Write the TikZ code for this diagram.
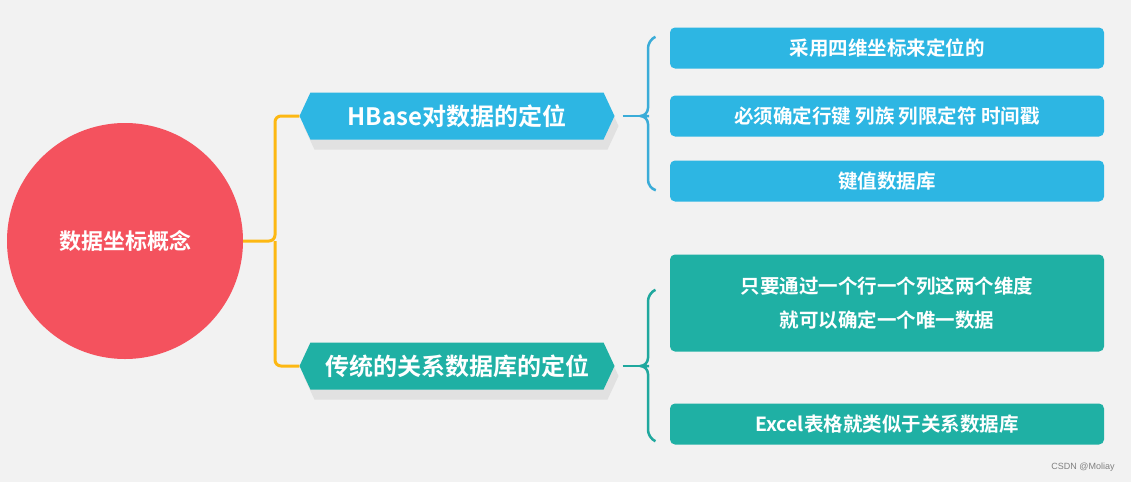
\documentclass[tikz,border=0pt]{standalone}
\usepackage{fontspec}
\setmainfont{Liberation Sans}
\newfontfamily\cjk{Noto Sans CJK SC}[BoldFont={* Bold}]
\usetikzlibrary{shapes.geometric,shapes.symbols,shadows}
\definecolor{bg}{HTML}{F2F2F2}
\definecolor{cred}{HTML}{F4525E}
\definecolor{cblue}{HTML}{2DB6E3}
\definecolor{cteal}{HTML}{1FB0A4}
\definecolor{corange}{HTML}{FDB813}
\definecolor{cbrace}{HTML}{3AACD8}
\definecolor{cbrace2}{HTML}{1FA89E}
\begin{document}
\begin{tikzpicture}[x=1pt,y=-1pt,
  hexbox/.style={signal,signal to=east and west,signal pointer angle=130,minimum width=315pt,minimum height=47pt,inner sep=0pt,text=white,font=\cjk\bfseries\fontsize{24}{28}\selectfont,drop shadow={shadow xshift=4pt,shadow yshift=-10pt,opacity=0.15}},
  leaf/.style={rounded corners=5pt,minimum width=434pt,inner sep=0pt,text=white,font=\cjk\bfseries\fontsize{19.5}{34}\selectfont,align=center},
  conn/.style={line width=3pt,corange,rounded corners=6pt},
  brace/.style={line width=2.5pt,rounded corners=8pt}]
\fill[bg] (0,0) rectangle (1131,482);
\useasboundingbox (0,0) rectangle (1131,482);
\node[circle,fill=cred,minimum size=236pt,inner sep=0pt,text=white,font=\cjk\bfseries\fontsize{22}{26}\selectfont] (root) at (125,241) {数据坐标概念};
\node[hexbox,fill=cblue] (h1) at (457,116) {HBase对数据的定位};
\node[hexbox,fill=cteal] (h2) at (457,366) {传统的关系数据库的定位};
\coordinate (j) at (275,241);
\draw[conn] (root.east) -- (j) |- (h1.west);
\draw[conn] (j) |- (h2.west);
\node[leaf,fill=cblue,minimum height=41pt] (a1) at (887,48) {采用四维坐标来定位的};
\node[leaf,fill=cblue,minimum height=41pt] (a2) at (887,116) {必须确定行键 列族 列限定符 时间戳};
\node[leaf,fill=cblue,minimum height=41pt] (a3) at (887,181) {键值数据库};
\node[leaf,fill=cteal,minimum height=97pt] (b1) at (887,303) {只要通过一个行一个列这两个维度\\就可以确定一个唯一数据};
\node[leaf,fill=cteal,minimum height=41pt] (b2) at (887,424) {Excel表格就类似于关系数据库};
\coordinate (t1) at (641,116);
\coordinate (t2) at (641,366);
\draw[brace,cbrace] (h1.east) ++(8,0) -- (t1);
\draw[brace,cbrace] (655,37) -- (648,40) -- (648,116) -- (t1) -- (648,116) -- (648,188) -- (655,190);
\draw[brace,cbrace2] (h2.east) ++(8,0) -- (t2);
\draw[brace,cbrace2] (655,290) -- (648,293) -- (648,366) -- (t2) -- (648,366) -- (648,438) -- (655,441);
\node[font=\fontsize{9}{10}\selectfont,text=gray] (wm) at (1083,467) {CSDN @Moliay};
\end{tikzpicture}
\end{document}
